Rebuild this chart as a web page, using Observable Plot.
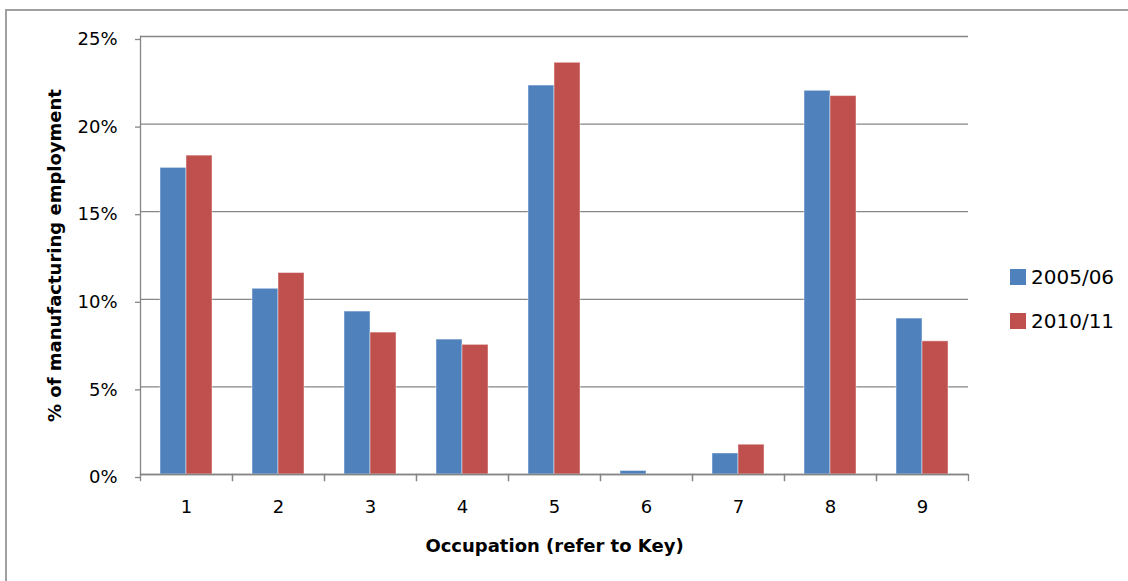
<!DOCTYPE html>
<html>
<head>
<meta charset="utf-8">
<script src="https://cdn.jsdelivr.net/npm/d3@7"></script>
<script src="https://cdn.jsdelivr.net/npm/@observablehq/plot@0.6"></script>
<style>
  html, body { margin: 0; padding: 0; background: #fff; overflow: hidden; }
  #wrap { position: relative; width: 1128px; height: 581px; overflow: hidden; font-family: "DejaVu Sans", sans-serif; }
  #border { position: absolute; left: 5px; top: 9px; width: 1300px; height: 800px; border-left: 2px solid #a0a0a0; border-top: 2px solid #a0a0a0; box-sizing: border-box; }
  #chart { position: absolute; left: 0; top: 0; }
  #legend { position: absolute; left: 1010px; top: 268px; }
  .item { display: flex; align-items: center; height: 18px; margin-bottom: 25.5px; font-size: 20px; color: #000; }
  .sw { width: 16px; height: 16px; margin-right: 5px; }
</style>
</head>
<body>
<div id="wrap">
  <div id="border"></div>
  <div id="chart"></div>
  <div id="legend"></div>
</div>
<script>
const occupations = ["1", "2", "3", "4", "5", "6", "7", "8", "9"];
const seriesNames = ["2005/06", "2010/11"];
const values2005 = [17.5, 10.6, 9.3, 7.7, 22.2, 0.2, 1.2, 21.9, 8.9];
const values2010 = [18.2, 11.5, 8.1, 7.4, 23.5, 0.0, 1.7, 21.6, 7.6];
const yTicks = [0, 5, 10, 15, 20, 25];
const colors = ["#4F81BD", "#C0504D"];
const yTitle = "% of manufacturing employment";
const xTitle = "Occupation (refer to Key)";

const table = occupations.flatMap((occ, i) => [
  {occ, series: seriesNames[0], value: values2005[i]},
  {occ, series: seriesNames[1], value: values2010[i]}
]);

const axisGrey = "#868686";

const chart = Plot.plot({
  width: 1128,
  height: 581,
  marginLeft: 137,
  marginRight: 157,
  marginTop: 36,
  marginBottom: 107,
  style: {fontFamily: "DejaVu Sans, sans-serif", fontSize: "18px", color: "#000", background: "transparent"},
  fx: {domain: occupations, padding: 0},
  x: {domain: seriesNames, paddingInner: 0, paddingOuter: 0.74, axis: null},
  y: {domain: [0, 25]},
  color: {domain: seriesNames, range: colors},
  marks: [
    Plot.gridY(yTicks, {stroke: axisGrey, strokeOpacity: 1, strokeWidth: 1.3}),
    Plot.barY(table, {filter: d => d.value > 0, fx: "occ", x: "series", y: "value", fill: "series", stroke: "#fff", strokeOpacity: 0.45, strokeWidth: 1}),
    Plot.ruleY([0], {stroke: axisGrey, strokeWidth: 1.3}),
    Plot.frame({anchor: "left", facetAnchor: "left", stroke: axisGrey, strokeWidth: 1.3}),
    Plot.frame({anchor: "left", insetTop: 438, insetBottom: -6, stroke: axisGrey, strokeWidth: 1.3}),
    Plot.frame({anchor: "right", insetTop: 438, insetBottom: -6, stroke: axisGrey, strokeWidth: 1.3}),
    Plot.axisY(yTicks, {tickFormat: d => d + "%", tickSize: 5, tickPadding: 18, stroke: axisGrey, strokeWidth: 1.3, fill: "#000", dy: 3, label: null}),
    Plot.axisY([], {label: yTitle, labelArrow: "none", labelAnchor: "center", labelOffset: 92, tickSize: 0, fontWeight: "bold", fontSize: 18, fill: "#000"}),
    Plot.axisFx({anchor: "bottom", tickSize: 0, tickPadding: 26, fill: "#000", label: null}),
    Plot.axisFx([], {anchor: "bottom", label: xTitle, labelArrow: "none", labelAnchor: "center", labelOffset: 77, tickSize: 0, fontWeight: "bold", fontSize: 18, fill: "#000"})
  ]
});
document.getElementById("chart").appendChild(chart);

const legend = document.getElementById("legend");
seriesNames.forEach((name, i) => {
  const item = document.createElement("div");
  item.className = "item";
  const sw = document.createElement("div");
  sw.className = "sw";
  sw.style.background = colors[i];
  const label = document.createElement("span");
  label.textContent = name;
  item.appendChild(sw);
  item.appendChild(label);
  legend.appendChild(item);
});
</script>
</body>
</html>
